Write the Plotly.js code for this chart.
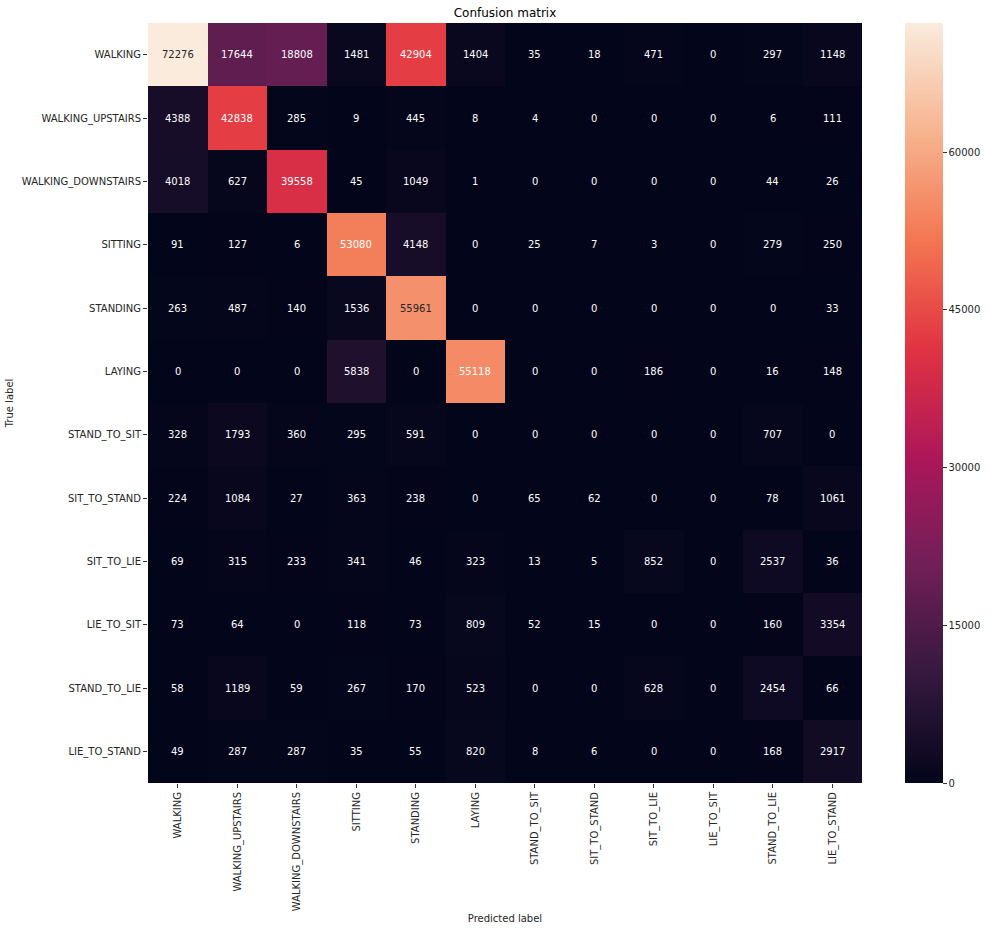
<!DOCTYPE html>
<html>
<head>
<meta charset="utf-8">
<script src="https://cdn.plot.ly/plotly-3.0.1.min.js"></script>
<style>html,body{margin:0;padding:0;background:#fff;}#chart{width:990px;height:932px;}</style>
</head>
<body>
<div id="chart"></div>
<script>
const labels = ["WALKING","WALKING_UPSTAIRS","WALKING_DOWNSTAIRS","SITTING","STANDING","LAYING",
  "STAND_TO_SIT","SIT_TO_STAND","SIT_TO_LIE","LIE_TO_SIT","STAND_TO_LIE","LIE_TO_STAND"];

const rowWalking          = [72276,17644,18808,1481,42904,1404,35,18,471,0,297,1148];
const rowWalkingUpstairs  = [4388,42838,285,9,445,8,4,0,0,0,6,111];
const rowWalkingDownstairs= [4018,627,39558,45,1049,1,0,0,0,0,44,26];
const rowSitting          = [91,127,6,53080,4148,0,25,7,3,0,279,250];
const rowStanding         = [263,487,140,1536,55961,0,0,0,0,0,0,33];
const rowLaying           = [0,0,0,5838,0,55118,0,0,186,0,16,148];
const rowStandToSit       = [328,1793,360,295,591,0,0,0,0,0,707,0];
const rowSitToStand       = [224,1084,27,363,238,0,65,62,0,0,78,1061];
const rowSitToLie         = [69,315,233,341,46,323,13,5,852,0,2537,36];
const rowLieToSit         = [73,64,0,118,73,809,52,15,0,0,160,3354];
const rowStandToLie       = [58,1189,59,267,170,523,0,0,628,0,2454,66];
const rowLieToStand       = [49,287,287,35,55,820,8,6,0,0,168,2917];

const matrix = [rowWalking,rowWalkingUpstairs,rowWalkingDownstairs,rowSitting,rowStanding,rowLaying,
  rowStandToSit,rowSitToStand,rowSitToLie,rowLieToSit,rowStandToLie,rowLieToStand];

const cbTickVals = [0,15000,30000,45000,60000];
const cbTickText = ["0","15000","30000","45000","60000"];

// seaborn "rocket" approximation
const rocket = [
  [0.0,   "#03051a"],
  [0.143, "#35193e"],
  [0.286, "#701f57"],
  [0.429, "#ad1759"],
  [0.571, "#e13342"],
  [0.714, "#f37651"],
  [0.857, "#f6b48f"],
  [1.0,   "#faebdd"]
];

let zmax = 0;
matrix.forEach(r => r.forEach(v => { if (v > zmax) zmax = v; }));

function hexToRgb(h){ return [parseInt(h.substr(1,2),16),parseInt(h.substr(3,2),16),parseInt(h.substr(5,2),16)]; }
function colorAt(t){
  for (let i=0;i<rocket.length-1;i++){
    const [a,ca]=rocket[i],[b,cb]=rocket[i+1];
    if (t>=a && t<=b){
      const f=(t-a)/(b-a); const A=hexToRgb(ca),B=hexToRgb(cb);
      return A.map((x,k)=>x+(B[k]-x)*f);
    }
  }
  return hexToRgb(rocket[rocket.length-1][1]);
}
function lum(rgb){
  const c = rgb.map(x=>{ x/=255; return x<=0.03928? x/12.92 : Math.pow((x+0.055)/1.055,2.4); });
  return 0.2126*c[0]+0.7152*c[1]+0.0722*c[2];
}

const annotations = [];
matrix.forEach((row,i)=>row.forEach((v,j)=>{
  const L = lum(colorAt(v/zmax));
  annotations.push({
    x: labels[j], y: labels[i], xref:'x', yref:'y', text: String(v), showarrow:false,
    font:{family:'DejaVu Sans', size:10, color: L > 0.395 ? '#262626' : '#ffffff'}
  });
}));

const trace = {
  type:'heatmap',
  x: labels, y: labels, z: matrix,
  zmin: 0, zmax: zmax,
  colorscale: rocket,
  hoverongaps:false,
  colorbar:{
    x: 1.06, xanchor:'left', xref:'paper', xpad:0, ypad:0,
    y: 0.5, yanchor:'middle', len: 1, lenmode:'fraction',
    thickness: 38, thicknessmode:'pixels',
    outlinewidth: 0,
    tickmode:'array', tickvals: cbTickVals, ticktext: cbTickText,
    ticks:'outside', ticklen:4, tickwidth:1, tickcolor:'#333',
    tickfont:{family:'DejaVu Sans', size:10, color:'#262626'}
  }
};

const layout = {
  width: 990, height: 932,
  margin:{l:148, r:128, t:23, b:149, pad:0, autoexpand:false},
  paper_bgcolor:'#fff', plot_bgcolor:'#fff',
  font:{family:'DejaVu Sans', size:10, color:'#262626'},
  title:{text:'Confusion matrix', font:{family:'DejaVu Sans', size:12, color:'#000'},
         xref:'paper', x:0.5, xanchor:'center', y:1-13/932, yanchor:'middle'},
  xaxis:{
    type:'category', tickangle:-90, ticks:'outside', ticklen:4, tickwidth:1, tickcolor:'#333',
    showgrid:false, zeroline:false, showline:false, automargin:false,
    tickfont:{family:'DejaVu Sans', size:10, color:'#262626'},
    title:{text:'Predicted label', standoff:4, font:{family:'DejaVu Sans', size:10, color:'#262626'}}
  },
  yaxis:{
    type:'category', autorange:'reversed', ticks:'outside', ticklen:4, tickwidth:1, tickcolor:'#333',
    showgrid:false, zeroline:false, showline:false, automargin:false,
    tickfont:{family:'DejaVu Sans', size:10, color:'#262626'},
    title:{text:'True label', standoff:6, font:{family:'DejaVu Sans', size:10, color:'#262626'}}
  },
  annotations: annotations
};

Plotly.newPlot('chart',[trace],layout,{displayModeBar:false, staticPlot:true});
</script>
</body>
</html>
